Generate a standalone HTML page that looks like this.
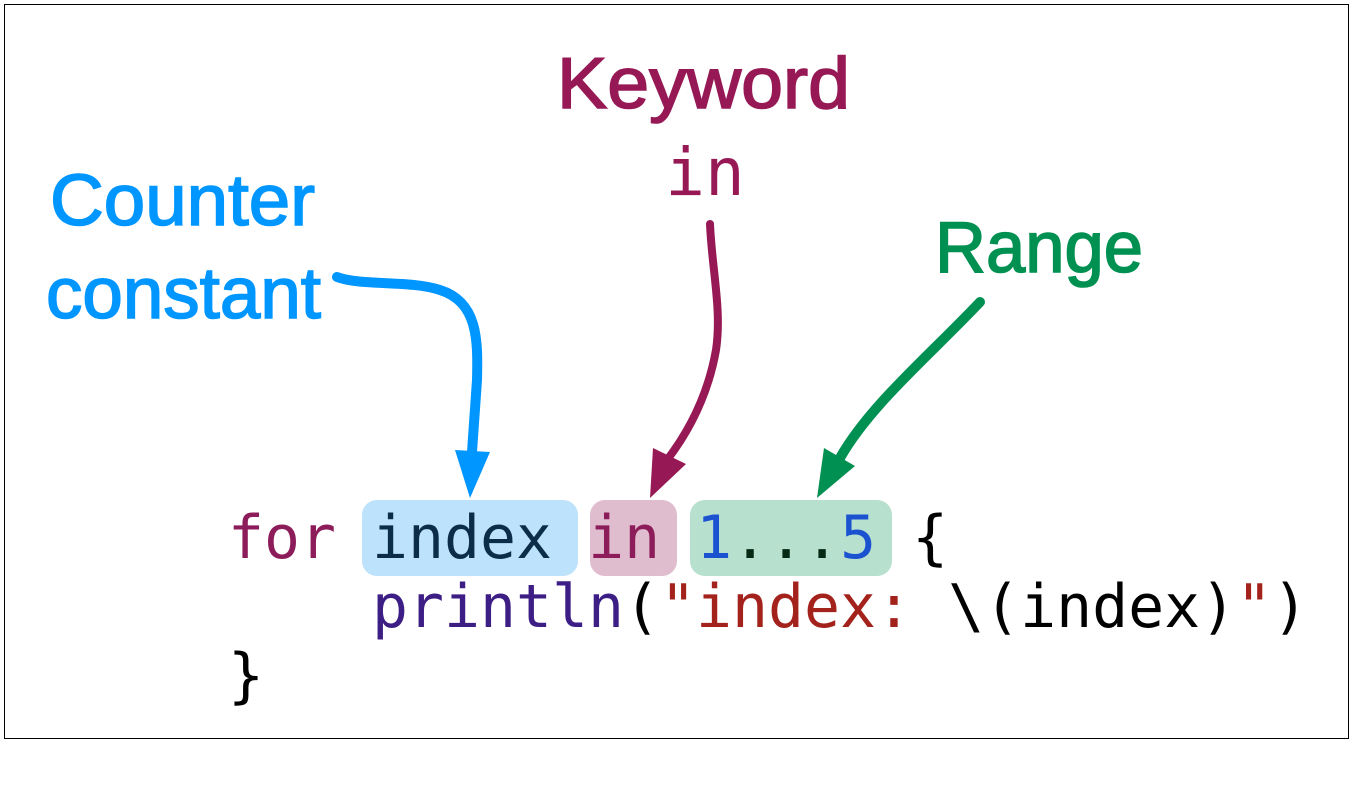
<!DOCTYPE html>
<html><head><meta charset="utf-8"><style>
html,body{margin:0;padding:0;background:#fff;}
svg{display:block;}
</style></head><body>
<svg width="1354" height="792" viewBox="0 0 1354 792" xmlns="http://www.w3.org/2000/svg">
<rect x="0" y="0" width="1354" height="792" fill="#fff"/>
<rect x="4.5" y="4.5" width="1344" height="734" fill="none" stroke="#000" stroke-width="1"/>

<!-- highlight boxes -->
<rect x="362" y="500" width="216" height="76" rx="15" fill="#bde2fb"/>
<rect x="590" y="500" width="87" height="76" rx="15" fill="#e0bccf"/>
<rect x="690" y="500" width="202" height="76" rx="15" fill="#b7e0cf"/>

<!-- code -->
<g font-family="'DejaVu Sans Mono','Liberation Mono',monospace" font-size="59.8">
<text x="228" y="558"><tspan fill="#8d1d5a">for</tspan> <tspan fill="#0b2d4a">index</tspan> <tspan fill="#8d1d5a">in</tspan> <tspan fill="#1a52d0">1</tspan><tspan fill="#062a14">...</tspan><tspan fill="#1a52d0">5</tspan> <tspan fill="#000">{</tspan></text>
<text x="372" y="627"><tspan fill="#3d1e85">println</tspan><tspan fill="#000">(</tspan><tspan fill="#a3221c">"index:</tspan> <tspan fill="#000">\(index)</tspan><tspan fill="#a3221c">"</tspan><tspan fill="#000">)</tspan></text>
<text x="228" y="696" fill="#000">}</text>
</g>

<!-- labels -->
<g font-family="'Liberation Sans',sans-serif" font-size="72" stroke-width="1.6">
<text x="50" y="225" fill="#0096ff" stroke="#0096ff" textLength="265" lengthAdjust="spacingAndGlyphs">Counter</text>
<text x="46" y="318" fill="#0096ff" stroke="#0096ff" textLength="275" lengthAdjust="spacingAndGlyphs">constant</text>
<text x="557" y="108" fill="#961955" stroke="#961955" textLength="293" lengthAdjust="spacingAndGlyphs">Keyword</text>
<text x="935" y="272" fill="#009051" stroke="#009051" textLength="208" lengthAdjust="spacingAndGlyphs">Range</text>
</g>
<text x="705" y="195" text-anchor="middle" font-family="'DejaVu Sans Mono','Liberation Mono',monospace" font-size="66" fill="#961955">in</text>

<!-- arrows -->
<path d="M337,277 C360,286 410,280 440,290 C478,302 478,340 477,380 L472,452" fill="none" stroke="#0096ff" stroke-width="10" stroke-linecap="round"/>
<polygon points="455,450 490,452 470,498" fill="#0096ff"/>

<path d="M710,224 C712,270 722,310 716,350 C708,395 690,430 667,460" fill="none" stroke="#961955" stroke-width="8" stroke-linecap="round"/>
<polygon points="653,448 686,464 650,498" fill="#961955"/>

<path d="M980,302 C930,355 870,405 840,458" fill="none" stroke="#009051" stroke-width="10" stroke-linecap="round"/>
<polygon points="824,448 855,466 817,498" fill="#009051"/>
</svg>
</body></html>
